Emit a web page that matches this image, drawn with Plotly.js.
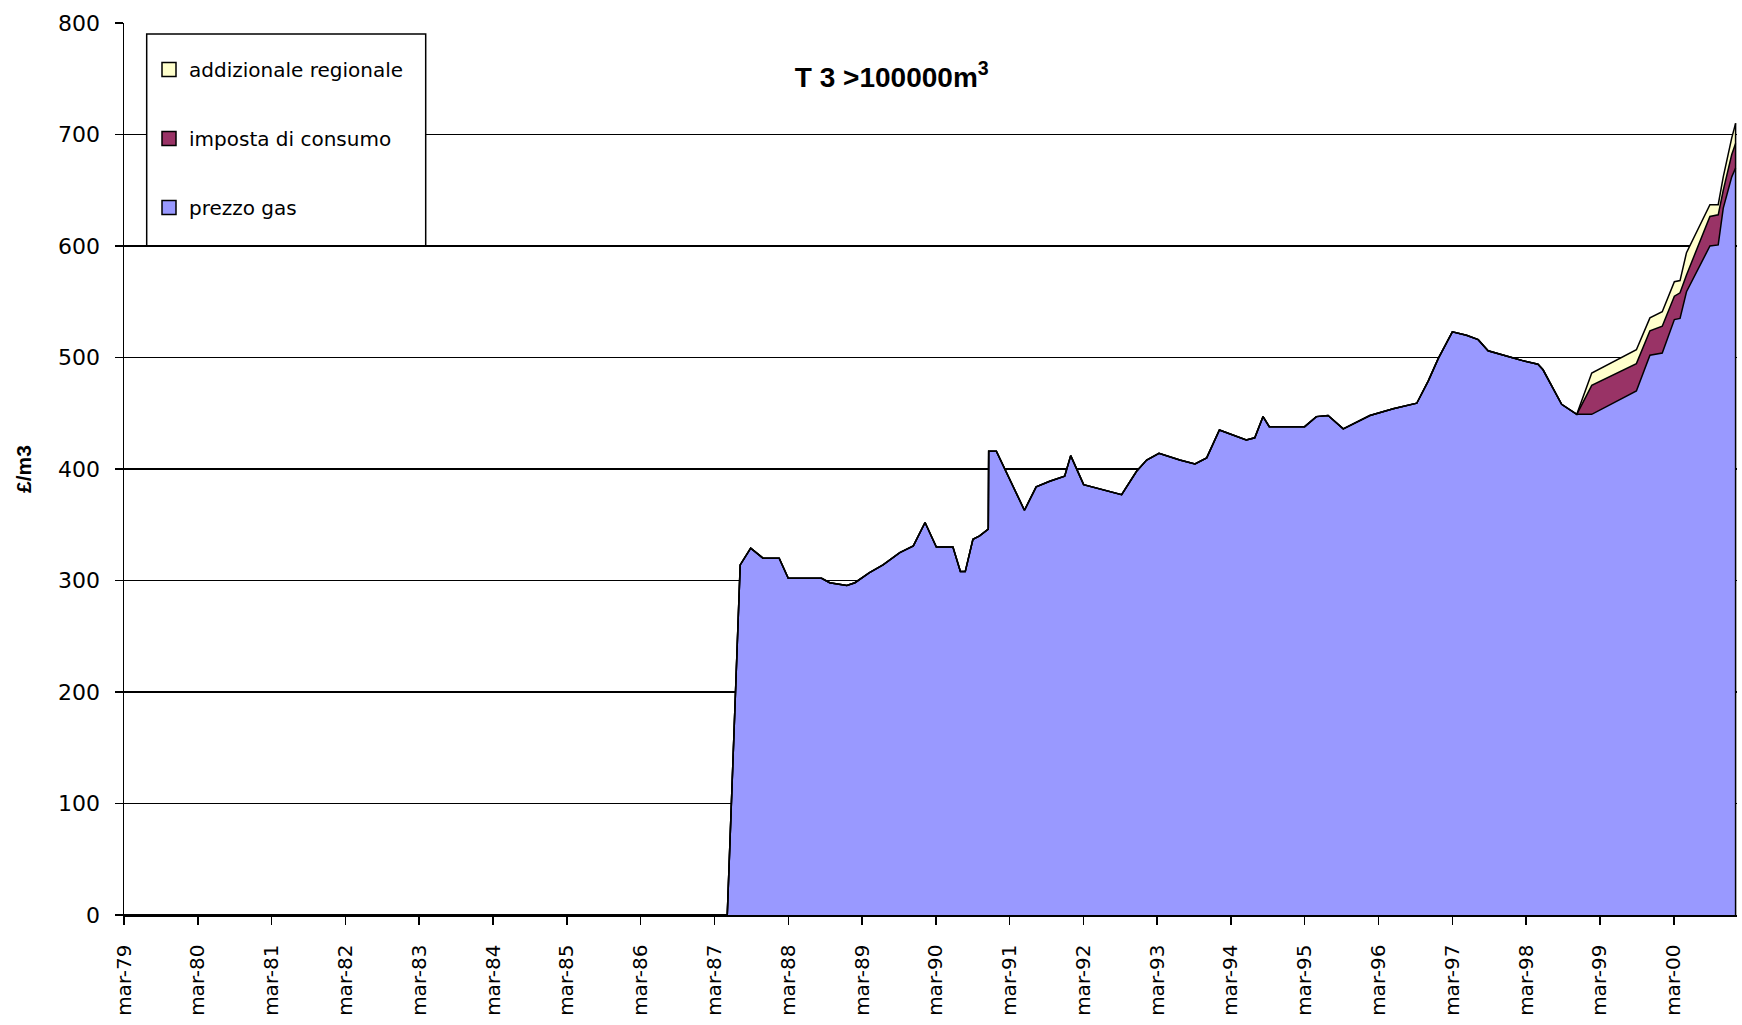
<!DOCTYPE html>
<html><head><meta charset="utf-8">
<script src="https://cdn.plot.ly/plotly-3.0.1.min.js"></script>
<style>html,body{margin:0;padding:0;background:#fff;} #chart{width:1742px;height:1025px;}</style>
</head><body><div id="chart"></div>
<script>
// Dates of the price changes (time-scale axis)
const dates = [
"1979-03-01","1987-05-04","1987-07-07","1987-08-28","1987-10-28","1988-01-16","1988-03-01","1988-08-13",
"1988-09-22","1988-11-04","1988-12-16","1989-01-25","1989-04-07","1989-06-13","1989-09-04","1989-11-10",
"1990-01-07","1990-03-04","1990-05-25","1990-07-01","1990-07-25","1990-09-01","1990-10-04","1990-11-16",
"1990-11-18","1990-12-26","1991-05-14","1991-07-11","1991-09-16","1991-11-29","1991-12-29","1992-03-02",
"1992-05-20","1992-09-06","1992-11-19","1993-01-08","1993-03-10","1993-06-21","1993-09-04","1993-11-01",
"1994-01-03","1994-03-28","1994-05-16","1994-06-27","1994-08-07","1994-09-07","1995-03-01","1995-04-28",
"1995-06-25","1995-09-08","1996-01-18","1996-05-12","1996-09-06","1996-11-02","1996-12-21","1997-03-01",
"1997-05-10","1997-07-07","1997-08-25","1997-12-11","1998-02-16","1998-04-29","1998-05-24","1998-08-24",
"1998-11-07","1999-01-20","1999-08-29","1999-11-04","2000-01-04","2000-03-04","2000-04-01","2000-05-03",
"2000-08-27","2000-10-07","2000-11-01","2000-12-13","2001-01-01"
];
// prezzo gas (£/m3)
const prezzoGas = [
0,0,314,329,320,320,302,302,
298,297,295.5,298,307,314,325,331,
352,330,330,308,308,337,340,346,
416,416,363,384,389,393.5,412,386,
382,377,398,408,414,408,404.5,410,
435,429,426,428,447,438,438,447,
448,436,448,454,459,479,499,523,
520,516,506,500.5,497,494,489,458,
449,449,470,502,504,534,535,559,
600,601,634,662,670
];
// taxes exist only from late 1998
const taxDates = ["1998-11-07","1999-01-20","1999-08-29","1999-11-04","2000-01-04","2000-03-04","2000-04-01",
"2000-05-03","2000-08-27","2000-10-07","2000-11-01","2000-12-13","2001-01-01"];
const impostaConsumo = [0,26,24.5,22,24,21,23,15,26.5,27,16,20,22];
const addizionaleRegionale = [0,11,12.5,11.5,13,13,11,20,10.5,9,12,15,18];

const tickDates = ["1979-03-01","1980-03-01","1981-03-01","1982-03-01","1983-03-01","1984-03-01","1985-03-01",
"1986-03-01","1987-03-01","1988-03-01","1989-03-01","1990-03-01","1991-03-01","1992-03-01","1993-03-01",
"1994-03-01","1995-03-01","1996-03-01","1997-03-01","1998-03-01","1999-03-01","2000-03-01"];
const tickLabels = ["mar-79","mar-80","mar-81","mar-82","mar-83","mar-84","mar-85","mar-86","mar-87","mar-88",
"mar-89","mar-90","mar-91","mar-92","mar-93","mar-94","mar-95","mar-96","mar-97","mar-98","mar-99","mar-00"];

const seriesNames = ["prezzo gas","imposta di consumo","addizionale regionale"];
const seriesColors = ["#9999FF","#993366","#FFFFCC"];

function fullSeries(vals){
  return dates.map(d => { const i = taxDates.indexOf(d); return i >= 0 ? vals[i] : 0; });
}
const stackData = [prezzoGas, fullSeries(impostaConsumo), fullSeries(addizionaleRegionale)];

const traces = [];
for (let k = 0; k < 3; k++) {
  traces.push({
    type: 'scatter', mode: 'lines', x: dates, y: stackData[k], stackgroup: 's',
    fillcolor: seriesColors[k], line: {color: '#000', width: 1.5, shape: 'linear'},
    name: seriesNames[k], showlegend: false, hoverinfo: 'x+y'
  });
}
// legend entries (square swatches), top to bottom
[2,1,0].forEach(k => {
  traces.push({
    type: 'scatter', mode: 'markers', x: [null], y: [null], name: seriesNames[k],
    legendgroup: 'g' + k, showlegend: true,
    marker: {symbol: 'square', size: 14, color: seriesColors[k], line: {color: '#000', width: 1.5}}
  });
});

const lastTotal = stackData.reduce((s, arr) => s + arr[arr.length - 1], 0);

const layout = {
  width: 1742, height: 1025,
  margin: {l: 124, r: 5, t: 23, b: 110},
  paper_bgcolor: '#fff', plot_bgcolor: '#fff',
  font: {family: 'DejaVu Sans, sans-serif', color: '#000', size: 20},
  title: {
    text: 'T 3 >100000m<sup>3</sup>',
    font: {family: 'Liberation Sans, Arial, sans-serif', size: 28, weight: 'bold', color: '#000'},
    xref: 'paper', x: 0.476, xanchor: 'center',
    yref: 'container', y: 0.925, yanchor: 'middle'
  },
  xaxis: {
    type: 'date', range: ['1979-03-01', '2001-01-08'],
    tickmode: 'array', tickvals: tickDates, ticktext: tickLabels, tickangle: -90,
    ticks: 'outside', ticklen: 8, tickwidth: 1.5, tickcolor: '#000',
    showline: true, linecolor: '#000', linewidth: 1.5,
    showgrid: false, zeroline: false, ticklabelstandoff: 12,
    tickfont: {family: 'DejaVu Sans, sans-serif', size: 20, color: '#000'}
  },
  yaxis: {
    range: [0, 800], dtick: 100, tick0: 0,
    ticks: 'outside', ticklen: 8, tickwidth: 1.5, tickcolor: '#000',
    showline: true, linecolor: '#000', linewidth: 1.5,
    showgrid: true, gridcolor: '#000', gridwidth: 1.5, zeroline: false,
    ticklabelstandoff: 10,
    tickfont: {family: 'DejaVu Sans, sans-serif', size: 22, color: '#000'},
    title: {text: '£/m3', standoff: 20, font: {family: 'Liberation Sans, Arial, sans-serif', size: 21, weight: 'bold', color: '#000'}}
  },
  legend: {
    x: 0.0155, y: 0.9697, xanchor: 'left', yanchor: 'top',
    bgcolor: 'rgba(0,0,0,0)', borderwidth: 0,
    font: {family: 'DejaVu Sans, sans-serif', size: 20, color: '#000'},
    traceorder: 'grouped', tracegroupgap: 40, itemwidth: 30
  },
  shapes: [
    {type: 'rect', xref: 'paper', yref: 'paper', x0: 0.01407, x1: 0.18704, y0: 0.75034, y1: 0.98767,
     line: {color: '#000', width: 1.5}, fillcolor: '#fff', layer: 'above'},
    {type: 'line', xref: 'x', yref: 'y', x0: dates[dates.length - 1], x1: dates[dates.length - 1],
     y0: 0, y1: lastTotal, line: {color: '#000', width: 1.5}}
  ],
  showlegend: true
};

Plotly.newPlot('chart', traces, layout, {displayModeBar: false, staticPlot: true});
</script></body></html>
